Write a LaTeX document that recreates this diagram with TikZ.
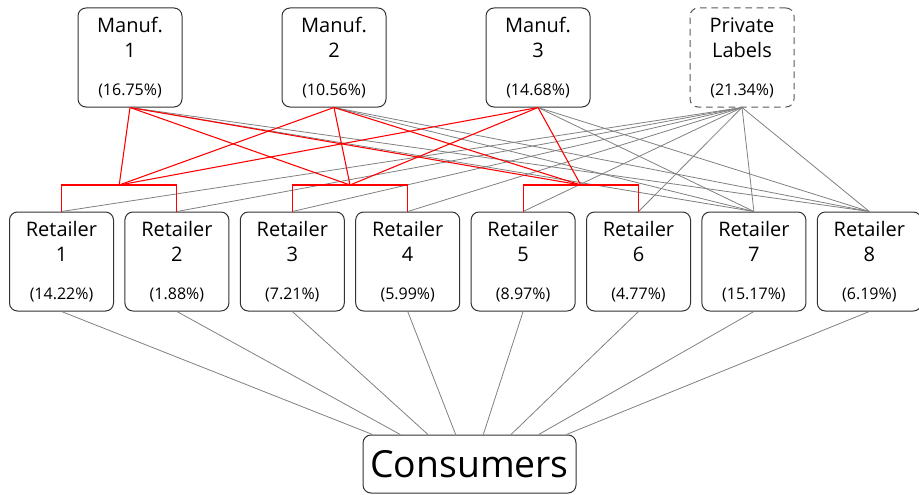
\documentclass[tikz,border=0pt]{standalone}
\usepackage{fontspec}
\setmainfont{Open Sans}
\usetikzlibrary{calc}

\tikzset{
  firm/.style={draw=black!80, line width=0.75pt, rounded corners=6pt,
    minimum width=78pt, minimum height=74.25pt, inner sep=0pt,
    align=center, font=\fontsize{15}{18.75}\selectfont},
  privlabel/.style={firm, dashed, dash pattern=on 5pt off 3.5pt, draw=black!65},
  sales/.style={draw=gray, line width=0.6pt},
  coalition/.style={draw=red, line width=0.8pt},
}
\newcommand{\mshare}[1]{{\fontsize{12}{14}\selectfont(#1\%)}}

\begin{document}
\begin{tikzpicture}[x=0.75pt, y=0.75pt]
  \useasboundingbox (0,0) rectangle (919,494);

  % 1. manufacturers and private labels
  \node[firm] (m1) at (130,436.5) {Manuf.\\1\\[9.75pt]\mshare{16.75}};
  \node[firm] (m2) at (334,436.5) {Manuf.\\2\\[9.75pt]\mshare{10.56}};
  \node[firm] (m3) at (538,436.5) {Manuf.\\3\\[9.75pt]\mshare{14.68}};
  \node[privlabel] (pl) at (742,436.5) {Private\\Labels\\[9.75pt]\mshare{21.34}};

  % 2. retailers
  \foreach \i/\s in {1/14.22, 2/1.88, 3/7.21, 4/5.99, 5/8.97, 6/4.77, 7/15.17, 8/6.19}
    \node[firm] (r\i) at ({61.5+115.4*(\i-1)},232.5) {Retailer\\\i\\[9.75pt]\mshare{\s}};

  % 3. consumers
  \node[firm, minimum width=159.75pt, minimum height=43.5pt,
        font=\fontsize{28}{34}\selectfont] (cons) at (469.5,30) {Consumers};

  % 4. junctions of the buying groups
  \coordinate (j1) at ($(r1.north)!0.5!(r2.north)+(0,26.5)$);
  \coordinate (j2) at ($(r3.north)!0.5!(r4.north)+(0,26.5)$);
  \coordinate (j3) at ($(r5.north)!0.5!(r6.north)+(0,26.5)$);

  % 5. gray supply links
  \foreach \m in {m1,m2,m3}
    \foreach \r in {r7,r8}
      \draw[sales] (\m.south) -- (\r.north);
  \foreach \i in {1,...,8}
    \draw[sales] (pl.south) -- (r\i.north);
  \foreach \i in {1,...,8}
    \draw[sales] (r\i.south) -- ($(cons.north west)!{0.047+0.1294*(\i-1)}!(cons.north east)$);

  % 6. red links through the buying groups
  \foreach \m in {m1,m2,m3}
    \foreach \j in {j1,j2,j3}
      \draw[coalition] (\m.south) -- (\j);
  \draw[coalition] (r1.north) -- (r1.north |- j1) -- (r2.north |- j1) -- (r2.north);
  \draw[coalition] (r3.north) -- (r3.north |- j2) -- (r4.north |- j2) -- (r4.north);
  \draw[coalition] (r5.north) -- (r5.north |- j3) -- (r6.north |- j3) -- (r6.north);
\end{tikzpicture}
\end{document}
